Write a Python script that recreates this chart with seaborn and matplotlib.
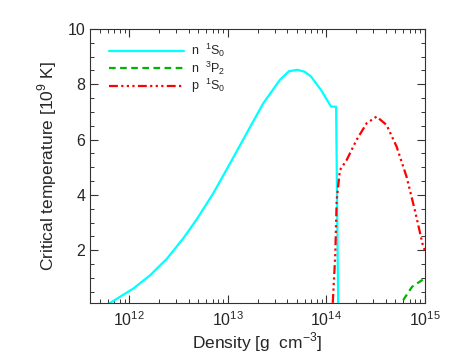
import numpy as np
import pandas as pd
import matplotlib
matplotlib.use("Agg")
import matplotlib.pyplot as plt
import seaborn as sns
from matplotlib.ticker import MultipleLocator, LogLocator, NullFormatter

# log10(density) and critical temperature [1e9 K]
n1s0_logrho = [11.797, 11.905, 12.041, 12.211, 12.382, 12.551, 12.684, 12.852,
               13.022, 13.191, 13.359, 13.529, 13.62, 13.708, 13.78, 13.844,
               13.946, 14.048, 14.099, 14.12]
n1s0_tc = [0.08, 0.32, 0.62, 1.10, 1.70, 2.45, 3.12, 4.06,
           5.14, 6.23, 7.31, 8.16, 8.47, 8.52, 8.45, 8.28,
           7.79, 7.19, 7.19, 0.0]

n3p2_logrho = [14.78, 14.87, 15.0]
n3p2_tc = [0.2, 0.68, 0.99]

p1s0_logrho = [14.065, 14.09, 14.105, 14.138, 14.206, 14.307, 14.409, 14.51,
               14.611, 14.713, 14.814, 14.898, 14.983, 15.0]
p1s0_tc = [0.1, 1.80, 3.82, 4.90, 5.26, 5.99, 6.59, 6.83,
           6.53, 5.75, 4.66, 3.46, 2.13, 2.0]

labels = [r"n  $^1$S$_0$", r"n  $^3$P$_2$", r"p  $^1$S$_0$"]
colors = ["#00ffff", "#00b400", "#ff0000"]

frames = []
for lab, lr, tc in zip(labels, [n1s0_logrho, n3p2_logrho, p1s0_logrho],
                       [n1s0_tc, n3p2_tc, p1s0_tc]):
    frames.append(pd.DataFrame({"density": 10.0 ** np.array(lr), "tc": tc, "state": lab}))
df = pd.concat(frames, ignore_index=True)

sns.set_style("ticks")
plt.rcParams["font.family"] = ["Liberation Sans", "DejaVu Sans"]
plt.rcParams["mathtext.fontset"] = "custom"
plt.rcParams["mathtext.rm"] = "Liberation Sans"

fig = plt.figure(figsize=(4.51, 3.61), dpi=100)
ax = fig.add_axes([0.2, 0.161, 0.742, 0.759])

sns.lineplot(
    data=df, x="density", y="tc", hue="state", style="state",
    palette=dict(zip(labels, colors)),
    dashes={labels[0]: "", labels[1]: (3, 2), labels[2]: (4, 1.5, 1, 1.5, 1, 1.5, 1, 1.5)},
    linewidth=1.6, sort=False, ax=ax,
)

ax.set_xscale("log")
ax.set_xlim(4e11, 1e15)
ax.set_ylim(0.1, 10)
ax.yaxis.set_major_locator(MultipleLocator(2))
ax.yaxis.set_minor_locator(MultipleLocator(0.5))
ax.xaxis.set_minor_locator(LogLocator(base=10, subs=np.arange(2, 10)))
ax.xaxis.set_minor_formatter(NullFormatter())
ax.tick_params(which="both", direction="in", top=True, right=True, color="#333333")
ax.tick_params(which="major", length=6, width=0.8, labelsize=11.5)
ax.tick_params(axis="x", which="major", pad=5)
ax.tick_params(which="minor", length=3, width=0.7)
for s in ax.spines.values():
    s.set_linewidth(0.8)
    s.set_color("#333333")

ax.set_xlabel(r"Density [g  cm$^{-3}$]", fontsize=12.5, labelpad=1)
ax.set_ylabel(r"Critical temperature [10$^9$ K]", fontsize=12.5, labelpad=6)

ax.legend(loc="upper left", frameon=False, handlelength=6.0, fontsize=9,
          borderaxespad=0.0, labelspacing=0.0, handletextpad=0.6,
          bbox_to_anchor=(0.04, 0.97))

fig.savefig("out.png", dpi=100)
